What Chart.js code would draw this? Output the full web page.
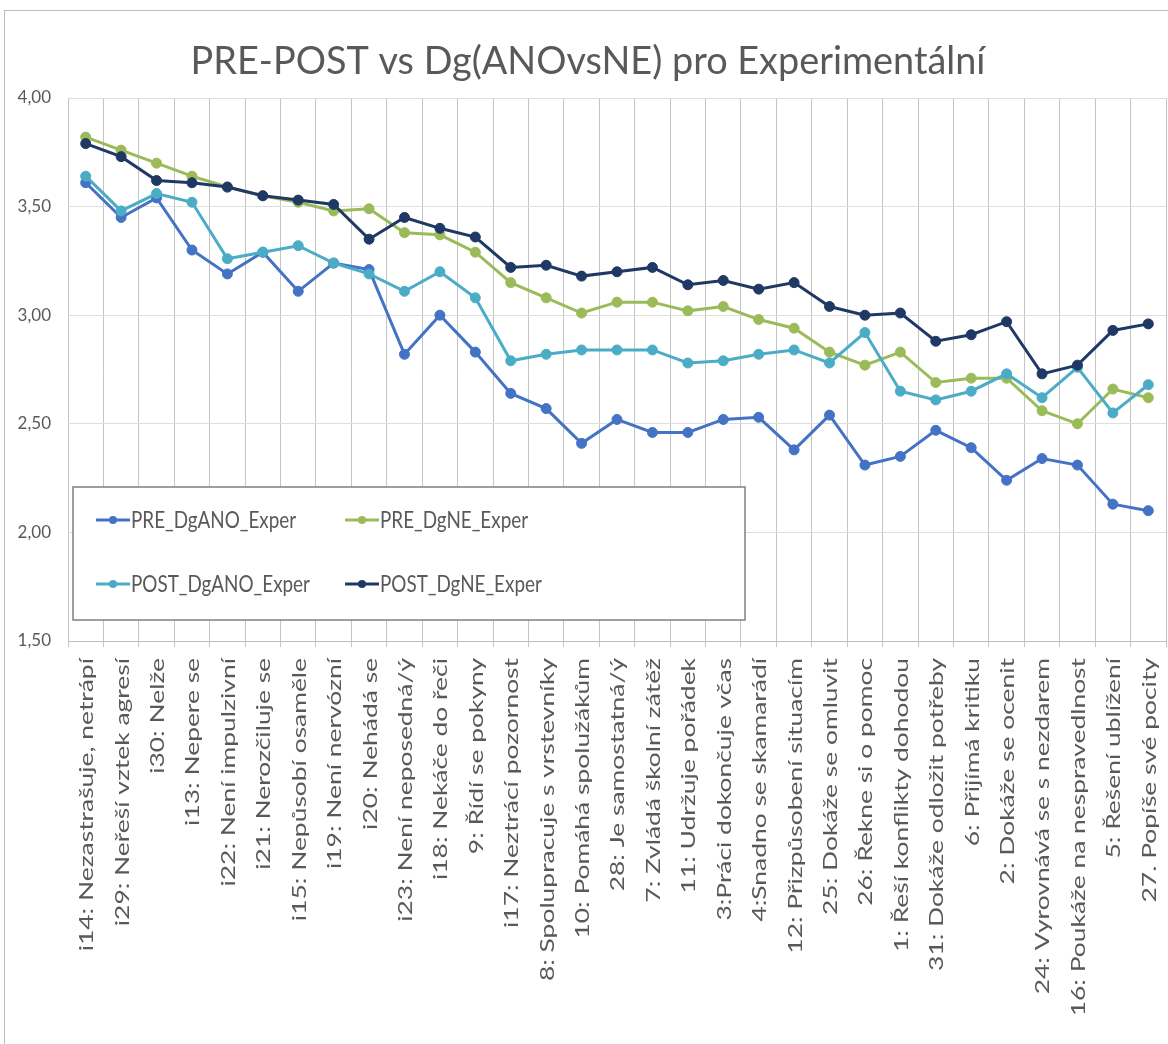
<!DOCTYPE html>
<html>
<head>
<meta charset="utf-8">
<script src="https://cdn.jsdelivr.net/npm/chart.js@4/dist/chart.umd.min.js"></script>
<style>
	html, body { margin: 0; padding: 0; background: #fff; overflow: hidden; }
	#frame { position: absolute; left: 4px; top: 10px; width: 1200px; height: 1100px; border: 1px solid #bdbdbd; }
	#chart { position: absolute; left: 0; top: 0; }
</style>
</head>
<body>
<div id="frame"></div>
<canvas id="chart" width="1172" height="1044"></canvas>
<script>
var categories = [
	'i14: Nezastrašuje, netrápí',
	'i29: Neřeší vztek agresí',
	'i30: Nelže',
	'i13: Nepere se',
	'i22: Není impulzivní',
	'i21: Nerozčiluje se',
	'i15: Nepůsobí osaměle',
	'i19: Není nervózní',
	'i20: Nehádá se',
	'i23: Není neposedná/ý',
	'i18: Nekáče do řeči',
	'9: Řídí se pokyny',
	'i17: Neztrácí pozornost',
	'8: Spolupracuje s vrstevníky',
	'10: Pomáhá spolužákům',
	'28: Je samostatná/ý',
	'7: Zvládá školní zátěž',
	'11: Udržuje pořádek',
	'3:Práci dokončuje včas',
	'4:Snadno se skamarádí',
	'12: Přizpůsobení situacím',
	'25: Dokáže se omluvit',
	'26: Řekne si o pomoc',
	'1: Řeší konflikty dohodou',
	'31: Dokáže odložit potřeby',
	'6: Přijímá kritiku',
	'2: Dokáže se ocenit',
	'24: Vyrovnává se s nezdarem',
	'16: Poukáže na nespravedlnost',
	'5: Řešení ublížení',
	'27. Popíše své pocity'
];

var preDgAno = [3.61, 3.45, 3.54, 3.30, 3.19, 3.29, 3.11, 3.24, 3.21, 2.82, 3.00, 2.83, 2.64, 2.57, 2.41, 2.52,
	2.46, 2.46, 2.52, 2.53, 2.38, 2.54, 2.31, 2.35, 2.47, 2.39, 2.24, 2.34, 2.31, 2.13, 2.10];
var preDgNe = [3.82, 3.76, 3.70, 3.64, 3.59, 3.55, 3.52, 3.48, 3.49, 3.38, 3.37, 3.29, 3.15, 3.08, 3.01, 3.06,
	3.06, 3.02, 3.04, 2.98, 2.94, 2.83, 2.77, 2.83, 2.69, 2.71, 2.71, 2.56, 2.50, 2.66, 2.62];
var postDgAno = [3.64, 3.48, 3.56, 3.52, 3.26, 3.29, 3.32, 3.24, 3.19, 3.11, 3.20, 3.08, 2.79, 2.82, 2.84, 2.84,
	2.84, 2.78, 2.79, 2.82, 2.84, 2.78, 2.92, 2.65, 2.61, 2.65, 2.73, 2.62, 2.76, 2.55, 2.68];
var postDgNe = [3.79, 3.73, 3.62, 3.61, 3.59, 3.55, 3.53, 3.51, 3.35, 3.45, 3.40, 3.36, 3.22, 3.23, 3.18, 3.20,
	3.22, 3.14, 3.16, 3.12, 3.15, 3.04, 3.00, 3.01, 2.88, 2.91, 2.97, 2.73, 2.77, 2.93, 2.96];

var seriesNames = ['PRE_DgANO_Exper', 'PRE_DgNE_Exper', 'POST_DgANO_Exper', 'POST_DgNE_Exper'];
var seriesColors = ['#4472c4', '#9bbb59', '#4bacc6', '#1f3864'];
var yTicks = [1.5, 2.0, 2.5, 3.0, 3.5, 4.0];

var chartTitle = 'PRE-POST vs Dg(ANOvsNE) pro Experimentální';
var fontFamily = 'Lato, "Open Sans", sans-serif';
var textColor = '#595959';

function makeDataset(i, data) {
	return {
		label: seriesNames[i],
		data: data,
		borderColor: seriesColors[i],
		backgroundColor: seriesColors[i],
		borderWidth: 3,
		pointRadius: 5,
		pointBorderWidth: 1,
		pointBackgroundColor: seriesColors[i],
		pointBorderColor: seriesColors[i],
		tension: 0,
		order: 4 - i
	};
}

//The source font is taller and narrower than Lato, so text gets squeezed a bit
function drawText(ctx, text, x, y, size, stretch) {
	ctx.save();
	ctx.translate(x, y);
	ctx.scale(stretch, 1);
	ctx.font = size + 'px ' + fontFamily;
	ctx.fillText(text, 0, 0);
	ctx.restore();
}

//Title drawn by hand so the plot area can sit exactly where it is in the picture
var titlePlugin = {
	id: 'titlePlugin',
	afterDraw: function(chart) {
		var ctx = chart.ctx;
		ctx.save();
		ctx.fillStyle = textColor;
		ctx.textAlign = 'center';
		ctx.textBaseline = 'middle';
		drawText(ctx, chartTitle, 588, 61, 39, 0.97);
		ctx.restore();
	}
};

//Category labels, rotated and stretched along the text
var xLabelPlugin = {
	id: 'xLabelPlugin',
	afterDraw: function(chart) {
		var ctx = chart.ctx;
		var xScale = chart.scales.x;
		var top = chart.chartArea.bottom + 17;

		ctx.save();
		ctx.fillStyle = textColor;
		ctx.textAlign = 'right';
		ctx.textBaseline = 'middle';
		for (let i = 0; i < categories.length; i++) {
			ctx.save();
			ctx.translate(xScale.getPixelForValue(i) + 1, top);
			ctx.rotate(-Math.PI / 2);
			drawText(ctx, categories[i], 0, 0, 20, 1.32);
			ctx.restore();
		}
		ctx.restore();
	}
};

//Legend box inside the plot, two columns
var legendBoxPlugin = {
	id: 'legendBoxPlugin',
	beforeDatasetsDraw: function(chart) {
		var ctx = chart.ctx;
		var box = {x: 73, y: 487, w: 672, h: 133};
		var cols = [96, 345];
		var rows = [520, 584];

		ctx.save();
		ctx.fillStyle = '#ffffff';
		ctx.fillRect(box.x, box.y, box.w, box.h);
		ctx.strokeStyle = '#7f7f7f';
		ctx.lineWidth = 1.5;
		ctx.strokeRect(box.x, box.y, box.w, box.h);

		ctx.textBaseline = 'middle';
		ctx.textAlign = 'left';

		for (let i = 0; i < seriesNames.length; i++) {
			let x = cols[i % 2];
			let y = rows[Math.floor(i / 2)];

			ctx.strokeStyle = seriesColors[i];
			ctx.lineWidth = 3;
			ctx.beginPath();
			ctx.moveTo(x, y);
			ctx.lineTo(x + 34, y);
			ctx.stroke();

			ctx.fillStyle = seriesColors[i];
			ctx.beginPath();
			ctx.arc(x + 17, y, 4, 0, Math.PI * 2);
			ctx.fill();

			ctx.fillStyle = textColor;
			drawText(ctx, seriesNames[i], x + 35, y + 1, 23, 0.82);
		}
		ctx.restore();
	}
};

new Chart(document.getElementById('chart'), {
	type: 'line',
	data: {
		labels: categories,
		datasets: [
			makeDataset(0, preDgAno),
			makeDataset(1, preDgNe),
			makeDataset(2, postDgAno),
			makeDataset(3, postDgNe)
		]
	},
	options: {
		responsive: false,
		animation: false,
		devicePixelRatio: 1,
		layout: {
			padding: {top: 98, right: 2, left: 0, bottom: 0}
		},
		plugins: {
			legend: {display: false},
			title: {display: false},
			tooltip: {enabled: false}
		},
		scales: {
			x: {
				offset: true,
				grid: {
					offset: true,
					color: '#c4c4c4',
					lineWidth: 1,
					drawTicks: true,
					tickLength: 6
				},
				border: {color: '#bfbfbf'},
				ticks: {
					display: false,
					autoSkip: false
				},
				afterFit: function(scale) {
					scale.height = 1044 - 641;
				}
			},
			y: {
				min: yTicks[0],
				max: yTicks[yTicks.length - 1],
				afterBuildTicks: function(scale) {
					scale.ticks = yTicks.map(function(v) {
						return {value: v};
					});
				},
				grid: {
					color: '#dedede',
					drawTicks: false
				},
				border: {display: false},
				ticks: {
					padding: 17,
					color: textColor,
					font: {family: fontFamily, size: 17},
					callback: function(value) {
						return value.toFixed(2).replace('.', ',');
					}
				},
				afterFit: function(scale) {
					scale.width = 68;
				}
			}
		}
	},
	plugins: [titlePlugin, xLabelPlugin, legendBoxPlugin]
});
</script>
</body>
</html>
